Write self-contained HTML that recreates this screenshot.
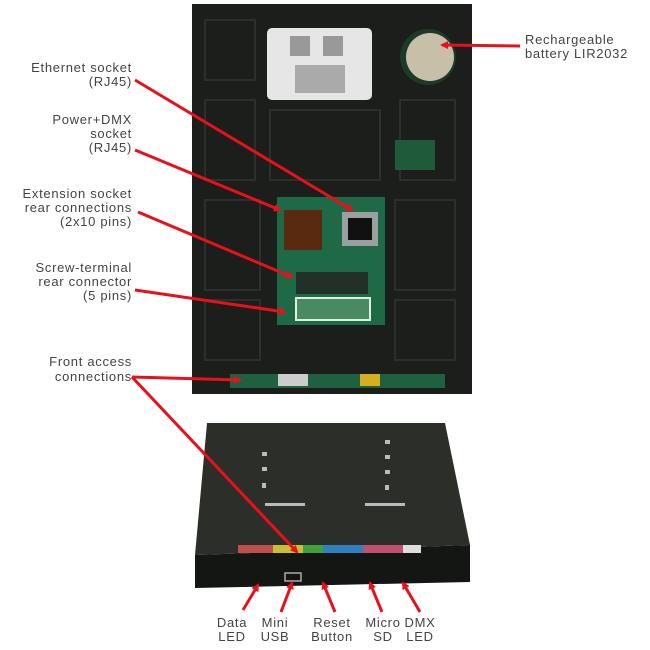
<!DOCTYPE html>
<html><head><style>
html,body{margin:0;padding:0;background:#fff;}
svg{display:block}
text{font-family:"Liberation Sans",sans-serif;font-size:13px;letter-spacing:0.7px;fill:#444;}
</style></head><body>
<svg width="650" height="650" viewBox="0 0 650 650">
<defs>
<marker id="ah" markerWidth="8" markerHeight="8" refX="6" refY="4" orient="auto" markerUnits="userSpaceOnUse">
<path d="M0,0 L8,4 L0,8 z" fill="#e8101a"/>
</marker>
</defs>
<!-- back panel -->
<rect x="192" y="4" width="280" height="390" fill="#1c1e1c"/>
<g stroke="#2c302c" stroke-width="2" fill="none">
<rect x="205" y="20" width="50" height="60"/><rect x="205" y="100" width="50" height="80"/>
<rect x="205" y="200" width="55" height="90"/><rect x="205" y="300" width="55" height="60"/>
<rect x="400" y="100" width="55" height="80"/><rect x="395" y="200" width="60" height="90"/>
<rect x="395" y="300" width="60" height="60"/><rect x="270" y="110" width="110" height="70"/>
</g>
<rect x="267" y="28" width="105" height="72" rx="5" fill="#e6e6e6"/>
<rect x="290" y="36" width="20" height="20" fill="#999"/><rect x="323" y="36" width="20" height="20" fill="#999"/>
<rect x="295" y="65" width="50" height="28" fill="#aaa"/>
<circle cx="428" cy="57" r="28" fill="#1d3a28"/>
<circle cx="430" cy="57" r="24" fill="#c8bfa8"/>
<rect x="395" y="140" width="40" height="30" fill="#1f5a3a"/>
<!-- pcb -->
<rect x="277" y="197" width="108" height="128" fill="#1e6a46"/>
<rect x="284" y="210" width="38" height="40" fill="#5a2a10"/>
<rect x="342" y="212" width="36" height="34" fill="#9aa0a0"/>
<rect x="348" y="218" width="24" height="22" fill="#111"/>
<rect x="296" y="272" width="72" height="22" fill="#223028"/>
<rect x="296" y="298" width="74" height="22" fill="#4a8a62" stroke="#e0f0e0" stroke-width="2"/>
<rect x="230" y="374" width="215" height="14" fill="#1f6040"/>
<rect x="278" y="374" width="30" height="12" fill="#ccc"/>
<rect x="360" y="374" width="20" height="12" fill="#d4b020"/>
<!-- front device -->
<polygon points="207,423 445,423 470,545 195,555" fill="#2b2e29"/>
<polygon points="195,555 470,545 470,582 195,588" fill="#141614"/>
<g fill="#bbb">
<rect x="262" y="452" width="5" height="4"/><rect x="262" y="467" width="5" height="4"/><rect x="262" y="483" width="4" height="5"/>
<rect x="385" y="440" width="5" height="4"/><rect x="385" y="455" width="5" height="4"/><rect x="385" y="470" width="5" height="4"/><rect x="385" y="485" width="4" height="5"/>
<rect x="265" y="503" width="40" height="3"/><rect x="365" y="503" width="40" height="3"/>
</g>
<rect x="238" y="545" width="35" height="8" fill="#c05050"/>
<rect x="273" y="545" width="30" height="8" fill="#c8c030"/>
<rect x="303" y="545" width="20" height="8" fill="#40a040"/>
<rect x="323" y="545" width="40" height="8" fill="#3080c0"/>
<rect x="363" y="545" width="40" height="8" fill="#c05070"/>
<rect x="403" y="545" width="18" height="8" fill="#ddd"/>
<rect x="285" y="573" width="16" height="8" fill="none" stroke="#aaa" stroke-width="1.5"/>
<!-- arrows -->
<g stroke="#e8101a" stroke-width="3" marker-end="url(#ah)">
<line x1="520" y1="46" x2="442" y2="45"/>
<line x1="135" y1="80" x2="352" y2="210"/>
<line x1="135" y1="150" x2="280" y2="210"/>
<line x1="138" y1="212" x2="292" y2="277"/>
<line x1="135" y1="290" x2="285" y2="312"/>
<line x1="132" y1="377" x2="240" y2="380"/>
<line x1="132" y1="377" x2="297" y2="552"/>
<line x1="243" y1="610" x2="258" y2="585"/>
<line x1="281" y1="612" x2="292" y2="583"/>
<line x1="335" y1="612" x2="323" y2="583"/>
<line x1="382" y1="612" x2="370" y2="583"/>
<line x1="420" y1="612" x2="403" y2="583"/>
</g>
<!-- labels -->
<g text-anchor="end">
<text x="132" y="72">Ethernet socket</text><text x="132" y="86">(RJ45)</text>
<text x="132" y="124">Power+DMX</text><text x="132" y="138">socket</text><text x="132" y="152">(RJ45)</text>
<text x="132" y="198">Extension socket</text><text x="132" y="212">rear connections</text><text x="132" y="226">(2x10 pins)</text>
<text x="132" y="272">Screw-terminal</text><text x="132" y="286">rear connector</text><text x="132" y="300">(5 pins)</text>
<text x="132" y="366">Front access</text><text x="132" y="381">connections</text>
</g>
<text x="525" y="44">Rechargeable</text><text x="525" y="58">battery LIR2032</text>
<g text-anchor="middle">
<text x="232" y="627">Data</text><text x="232" y="641">LED</text>
<text x="275" y="627">Mini</text><text x="275" y="641">USB</text>
<text x="332" y="627">Reset</text><text x="332" y="641">Button</text>
<text x="383" y="627">Micro</text><text x="383" y="641">SD</text>
<text x="420" y="627">DMX</text><text x="420" y="641">LED</text>
</g>
</svg>
</body></html>
